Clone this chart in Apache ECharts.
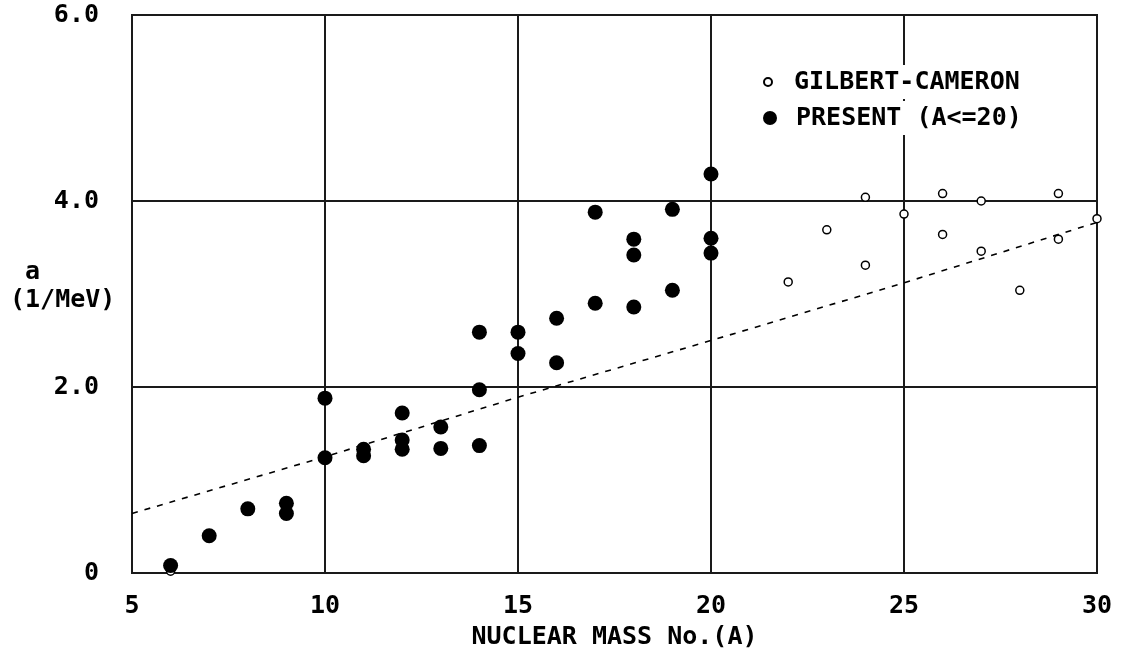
<!DOCTYPE html>
<html>
<head>
<meta charset="utf-8">
<script src="https://cdn.jsdelivr.net/npm/echarts@6/dist/echarts.min.js"></script>
<style>
  html, body { margin: 0; padding: 0; background: #fff; }
  #main { width: 1125px; height: 652px; }
</style>
</head>
<body>
<div id="main"></div>
<script>
// values
const gilbertA   = [6, 22, 23, 24, 24, 25, 26, 26, 27, 27, 28, 29, 29, 30];
const gilbertVal = [0.02, 3.13, 3.69, 4.04, 3.31, 3.86, 4.08, 3.64, 4.00, 3.46, 3.04, 4.08, 3.59, 3.81];

const presentA   = [6, 7, 8, 9, 9, 10, 10, 11, 11, 12, 12, 12, 13, 13, 14, 14, 14,
                    15, 15, 16, 16, 17, 17, 18, 18, 18, 19, 19, 20, 20, 20];
const presentVal = [0.08, 0.40, 0.69, 0.75, 0.64, 1.88, 1.24, 1.33, 1.26, 1.72, 1.43, 1.33, 1.57, 1.34, 2.59, 1.97, 1.37,
                    2.59, 2.36, 2.74, 2.26, 3.88, 2.90, 3.59, 3.42, 2.86, 3.91, 3.04, 4.29, 3.60, 3.44];

// dashed systematics line
const lineA   = [5, 10, 15, 20, 25, 30];
const lineVal = [0.64, 1.25, 1.89, 2.50, 3.12, 3.77];

const xTicks = [5, 10, 15, 20, 25, 30];
const yTicks = [0, 2, 4, 6];

const FONT = 'DejaVu Sans Mono';
const zip = (a, b) => a.map((v, i) => [v, b[i]]);

let chart = echarts.init(document.getElementById('main'));
let option = {
    animation: false,
    backgroundColor: '#fff',
    textStyle: {fontFamily: FONT, color: '#000'},
    grid: {
        left: 132, right: 28, top: 15, bottom: 79,
        containLabel: false,
        outerBoundsMode: 'none',
        show: true, borderColor: '#1a1a1a', borderWidth: 2
    },
    xAxis: {
        type: 'value',
        min: xTicks[0], max: xTicks[xTicks.length - 1], interval: 5,
        name: 'NUCLEAR MASS No.(A)',
        nameLocation: 'middle', nameGap: 52,
        nameTextStyle: {fontFamily: FONT, fontSize: 25, fontWeight: 'bold', color: '#000'},
        axisLine: {show: false},
        axisTick: {show: false},
        axisLabel: {margin: 21, fontFamily: FONT, fontSize: 25, fontWeight: 'bold', color: '#000'},
        splitLine: {show: true, lineStyle: {color: '#1a1a1a', width: 2}}
    },
    yAxis: {
        type: 'value',
        min: yTicks[0], max: yTicks[yTicks.length - 1], interval: 2,
        axisLine: {show: false},
        axisTick: {show: false},
        axisLabel: {
            margin: 33, fontFamily: FONT, fontSize: 25, fontWeight: 'bold', color: '#000',
            formatter: v => v === 0 ? '0' : v.toFixed(1)
        },
        splitLine: {show: true, lineStyle: {color: '#1a1a1a', width: 2}}
    },
    legend: [{
        data: ['GILBERT-CAMERON'],
        orient: 'vertical',
        left: 763, top: 65,
        padding: [2, 6, 2, 0],
        itemWidth: 42, itemHeight: 8,
        backgroundColor: '#fff',
        textStyle: {fontFamily: FONT, fontSize: 25, fontWeight: 'bold', color: '#000', lineHeight: 30}
    }, {
        data: ['PRESENT (A<=20)'],
        orient: 'vertical',
        left: 763, top: 101,
        padding: [2, 6, 2, 0],
        itemWidth: 42, itemHeight: 14,
        backgroundColor: '#fff',
        textStyle: {fontFamily: FONT, fontSize: 25, fontWeight: 'bold', color: '#000', lineHeight: 30}
    }],
    graphic: [{
        type: 'text',
        left: 10, top: 258,
        style: {
            text: ' a\n(1/MeV)',
            font: 'bold 25px "' + FONT + '"',
            fill: '#000',
            lineHeight: 28
        }
    }],
    series: [{
        name: 'systematics',
        type: 'line',
        data: zip(lineA, lineVal),
        symbol: 'none',
        silent: true,
        lineStyle: {color: '#000', width: 1.6, type: [6, 7]}
    }, {
        name: 'GILBERT-CAMERON',
        type: 'scatter',
        data: zip(gilbertA, gilbertVal),
        symbol: 'circle',
        symbolSize: 8,
        itemStyle: {color: '#fff', borderColor: '#000', borderWidth: 1.5, opacity: 1}
    }, {
        name: 'PRESENT (A<=20)',
        type: 'scatter',
        data: zip(presentA, presentVal),
        symbol: 'circle',
        symbolSize: 15,
        itemStyle: {color: '#000', opacity: 1}
    }]
};
chart.setOption(option);
</script>
</body>
</html>
